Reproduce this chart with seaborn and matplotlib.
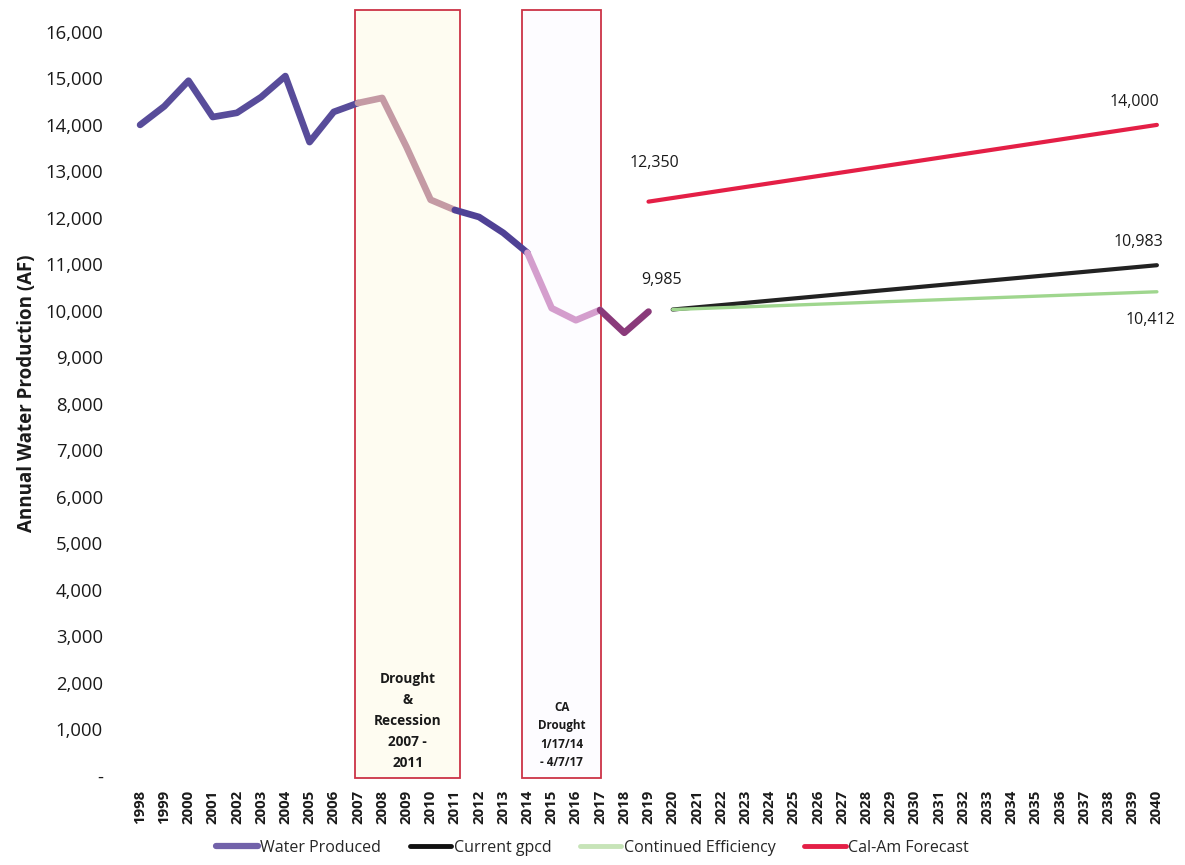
import matplotlib
matplotlib.use("Agg")
import matplotlib.pyplot as plt
from matplotlib.lines import Line2D
from matplotlib.ticker import FuncFormatter
import pandas as pd
import seaborn as sns

# Historical annual production (AF)
hist_years = list(range(1998, 2020))
hist_values = [14000, 14400, 14950, 14170, 14260, 14600, 15050, 13630, 14280,
               14470, 14580, 13530, 12390, 12170, 12020, 11680, 11250, 10060,
               9800, 10020, 9530, 9985]

# Colour bands along the historical series: (start year, end year, colour)
hist_bands = [
    (1998, 2007, "#584c9a"),
    (2007, 2011, "#c49aa4"),
    (2011, 2014, "#4f4195"),
    (2014, 2017, "#d49ecd"),
    (2017, 2019, "#8a3a7a"),
]

# Projections to 2040
gpcd_years = [2020, 2040]
gpcd_values = [10030, 10983]
eff_years = [2020, 2040]
eff_values = [10030, 10412]
calam_years = [2019, 2040]
calam_values = [12350, 14000]

all_years = list(range(1998, 2041))

# Shaded event periods: span, fill, caption, caption size, caption height, line spacing
periods = [
    (2006.88, 2011.22, "#fefcf1", "Drought\n&\nRecession\n2007 -\n2011", 9.8, 1180, 1.62),
    (2013.78, 2017.04, "#fdfcff", "CA\nDrought\n1/17/14\n- 4/7/17", 8.4, 880, 1.55),
]

sns.set_theme(style="white")
plt.rcParams["font.family"] = ["Open Sans", "DejaVu Sans"]

fig = plt.figure(figsize=(11.85, 8.65), dpi=100)
ax = fig.add_axes([0.108, 0.1029, 0.8785, 0.8855])

for x0, x1, fc, label, fs, ty, ls in periods:
    ax.axvspan(x0, x1, ymin=-0.003, ymax=1.0, facecolor=fc, edgecolor="#cc3346",
               linewidth=1.3, zorder=1, clip_on=False)
    ax.text((x0 + x1) / 2, ty, label, ha="center", va="center", fontsize=fs,
            fontweight="bold", color="#1a1a1a", linespacing=ls, zorder=2)

hist = pd.DataFrame({"year": hist_years, "af": hist_values})
for y0, y1, col in hist_bands:
    seg = hist[(hist.year >= y0) & (hist.year <= y1)]
    sns.lineplot(data=seg, x="year", y="af", ax=ax, color=col, linewidth=4.8,
                 solid_capstyle="round", solid_joinstyle="round", zorder=4)

proj = [
    (calam_years, calam_values, "#e41f46", 3.0),
    (gpcd_years, gpcd_values, "#222222", 3.0),
    (eff_years, eff_values, "#9fd68e", 2.4),
]
for yrs, vals, col, lw in proj:
    sns.lineplot(x=yrs, y=vals, ax=ax, color=col, linewidth=lw, zorder=3,
                 solid_capstyle="round")

# Value labels
ann = dict(fontsize=11.5, color="#1a1a1a", ha="center", va="center",
           textcoords="offset points")
ax.annotate(f"{calam_values[0]:,}", (calam_years[0], calam_values[0]), xytext=(4.5, 28), **ann)
ax.annotate(f"{calam_values[-1]:,}", (calam_years[-1], calam_values[-1]), xytext=(-16, 16.5), **ann)
ax.annotate(f"{gpcd_values[-1]:,}", (gpcd_years[-1], gpcd_values[-1]), xytext=(-13, 16.5), **ann)
ax.annotate(f"{eff_values[-1]:,}", (eff_years[-1], eff_values[-1]), xytext=(-4.5, -20), **ann)
ax.annotate(f"{hist_values[-1]:,}", (hist_years[-1], hist_values[-1]), xytext=(9.5, 23), **ann)

ax.set_xlim(1997.5, 2040.5)
ax.set_ylim(0, 16470)
ax.set_yticks(range(0, 16001, 1000))
ax.yaxis.set_major_formatter(FuncFormatter(lambda v, p: "-" if v == 0 else f"{int(v):,}"))
ax.set_xticks(all_years)
ax.set_xticklabels([str(y) for y in all_years], rotation=90, fontweight="bold",
                   fontsize=10.8)
ax.tick_params(axis="y", length=0, pad=18, labelsize=13.3, labelcolor="#1a1a1a")
ax.tick_params(axis="x", length=0, pad=10, labelcolor="#1a1a1a")
ax.set_xlabel("")
ax.set_ylabel("Annual Water Production (AF)", fontsize=13.5, fontweight="bold",
              color="#1a1a1a", labelpad=6)
for s in ax.spines.values():
    s.set_visible(False)
ax.grid(False)

handles = [
    Line2D([], [], color="#7262aa", lw=4.5),
    Line2D([], [], color="#111111", lw=3.5),
    Line2D([], [], color="#c7e4b8", lw=3.5),
    Line2D([], [], color="#e41f46", lw=3.5),
]
labels = ["Water Produced", "Current gpcd", "Continued Efficiency", "Cal-Am Forecast"]
fig.legend(handles, labels, loc="lower center", bbox_to_anchor=(0.5, -0.006),
           ncol=4, frameon=False, handlelength=2.6, handletextpad=0.15,
           columnspacing=1.8, prop={"size": 11.5})

fig.savefig("out.png", dpi=100)
